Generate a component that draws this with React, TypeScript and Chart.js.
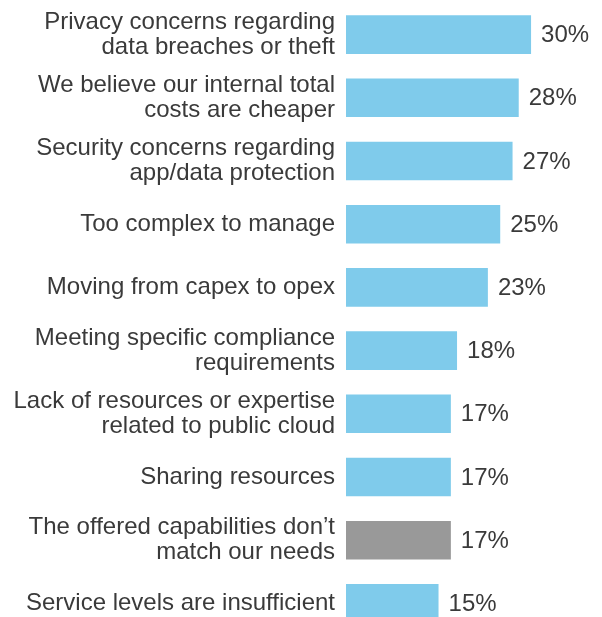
import React, { useEffect, useRef } from "react";
import { Chart, registerables } from "chart.js";

Chart.register(...registerables);

const categories: (string | string[])[] = [
  ["Privacy concerns regarding", "data breaches or theft"],
  ["We believe our internal total", "costs are cheaper"],
  ["Security concerns regarding", "app/data protection"],
  "Too complex to manage",
  "Moving from capex to opex",
  ["Meeting specific compliance", "requirements"],
  ["Lack of resources or expertise", "related to public cloud"],
  "Sharing resources",
  ["The offered capabilities don\u2019t", "match our needs"],
  "Service levels are insufficient",
];

const values: number[] = [30, 28, 27, 25, 23, 18, 17, 17, 17, 15];

const BLUE = "#7FCBEB";
const GRAY = "#999999";
const highlightGray: boolean[] = [false, false, false, false, false, false, false, false, true, false];

const FONT = "Arial, 'Liberation Sans', Helvetica, sans-serif";
const TEXT = "#3a3a3a";

const valueLabels = {
  id: "valueLabels",
  afterDatasetsDraw(chart: any) {
    const ctx = chart.ctx;
    const meta = chart.getDatasetMeta(0);
    ctx.save();
    ctx.font = `24px ${FONT}`;
    ctx.fillStyle = TEXT;
    ctx.textAlign = "left";
    ctx.textBaseline = "middle";
    meta.data.forEach((bar: any, i: number) => {
      ctx.fillText(`${values[i]}%`, bar.x + 10, bar.y + 1);
    });
    ctx.restore();
  },
};

export default function App() {
  const ref = useRef<HTMLCanvasElement | null>(null);

  useEffect(() => {
    if (!ref.current) return;
    const chart = new Chart(ref.current, {
      type: "bar",
      data: {
        labels: categories as any,
        datasets: [
          {
            data: values,
            backgroundColor: highlightGray.map((g) => (g ? GRAY : BLUE)),
            borderWidth: 0,
            categoryPercentage: 1,
            barPercentage: 0.61,
          },
        ],
      },
      options: {
        indexAxis: "y",
        animation: false,
        responsive: true,
        maintainAspectRatio: false,
        devicePixelRatio: 1,
        layout: { padding: { top: 3, bottom: 5, left: 0, right: 0 } },
        plugins: {
          legend: { display: false },
          tooltip: { enabled: false },
        },
        scales: {
          x: {
            display: false,
            min: 0,
            max: 41.5,
          },
          y: {
            grid: { display: false, drawTicks: false },
            border: { display: false },
            ticks: {
              padding: 11,
              color: TEXT,
              font: { family: FONT, size: 24, lineHeight: 1.05 },
              autoSkip: false,
            },
            afterFit(scale: any) {
              scale.width = 346;
              scale.paddingTop = 0;
              scale.paddingBottom = 0;
            },
          },
        },
      },
      plugins: [valueLabels],
    });
    return () => chart.destroy();
  }, []);

  return (
    <div
      style={{
        position: "absolute",
        left: 0,
        top: 0,
        width: 602,
        height: 617,
        overflow: "hidden",
        background: "#fff",
      }}
    >
      <div style={{ position: "relative", width: 602, height: 640 }}>
        <canvas ref={ref} />
      </div>
    </div>
  );
}
